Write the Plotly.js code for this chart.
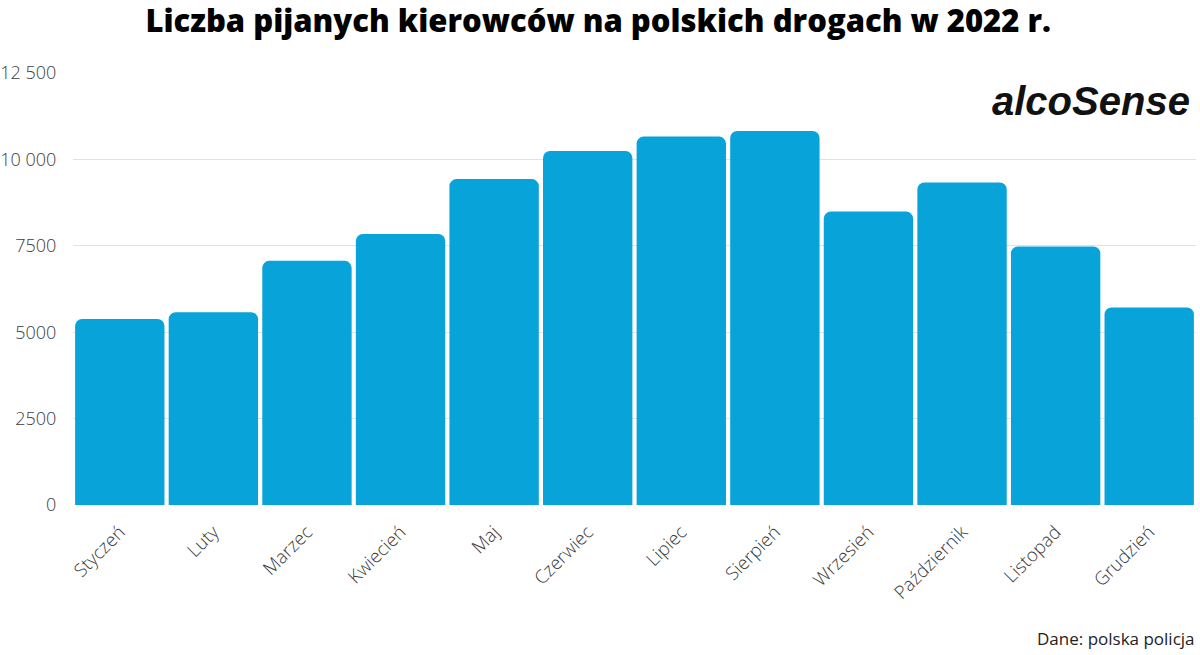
<!DOCTYPE html>
<html>
<head>
<meta charset="utf-8">
<script src="https://cdn.plot.ly/plotly-3.0.1.min.js"></script>
<style>html,body{margin:0;padding:0;background:#fff}#chart{width:1200px;height:655px}</style>
</head>
<body>
<div id="chart"></div>
<script>
const months = ["Styczeń","Luty","Marzec","Kwiecień","Maj","Czerwiec","Lipiec","Sierpień","Wrzesień","Październik","Listopad","Grudzień"];
const drunkDrivers = [5380, 5580, 7065, 7840, 9430, 10245, 10660, 10825, 8490, 9330, 7480, 5715];
const yTickVals = [0, 2500, 5000, 7500, 10000, 12500];
const yTickText = ["0", "2500", "5000", "7500", "10 000", "12 500"];

const trace = {
  type: "bar",
  x: months,
  y: drunkDrivers,
  marker: {color: "#08a3d9", cornerradius: 7},
  hoverinfo: "x+y"
};

const layout = {
  width: 1200, height: 655,
  margin: {l: 73, r: 4, t: 73, b: 150},
  paper_bgcolor: "#ffffff", plot_bgcolor: "#ffffff",
  font: {family: "Open Sans, sans-serif", color: "#444"},
  bargap: 0.045,
  showlegend: false,
  title: {
    text: "Liczba pijanych kierowców na polskich drogach w 2022 r.",
    font: {family: "Open Sans, sans-serif", size: 31, color: "#000", weight: 800},
    x: 0.4985, xanchor: "center", xref: "container",
    y: 0.967, yanchor: "middle", yref: "container"
  },
  xaxis: {
    type: "category",
    tickangle: -45,
    tickfont: {size: 18.5, color: "#3c3c3c", family: "Open Sans, sans-serif", weight: 300},
    showgrid: false, zeroline: false, showline: false,
    ticks: "outside", ticklen: 8, tickcolor: "rgba(0,0,0,0)"
  },
  yaxis: {
    range: [0, 12500],
    tickvals: yTickVals,
    ticktext: yTickText,
    tickfont: {size: 18, color: "#3c3c3c", family: "Open Sans, sans-serif", weight: 300},
    showgrid: true, gridcolor: "#e2e2e2", gridwidth: 1,
    zeroline: false, showline: false,
    ticks: "outside", ticklen: 12, tickcolor: "rgba(0,0,0,0)"
  },
  annotations: [
    {
      text: "<b><i>alcoSense</i></b>",
      xref: "paper", yref: "paper", x: 0.996, y: 0.935,
      xanchor: "right", yanchor: "middle", showarrow: false,
      font: {family: "Liberation Sans Narrow, Arial Narrow, sans-serif", size: 40, color: "#111"}
    },
    {
      text: "Dane: polska policja",
      xref: "paper", yref: "paper", x: 1.001, y: -0.31,
      xanchor: "right", yanchor: "middle", showarrow: false,
      font: {family: "Open Sans, sans-serif", size: 17, color: "#222"}
    }
  ]
};

Plotly.newPlot("chart", [trace], layout, {displayModeBar: false, responsive: false});
</script>
</body>
</html>
